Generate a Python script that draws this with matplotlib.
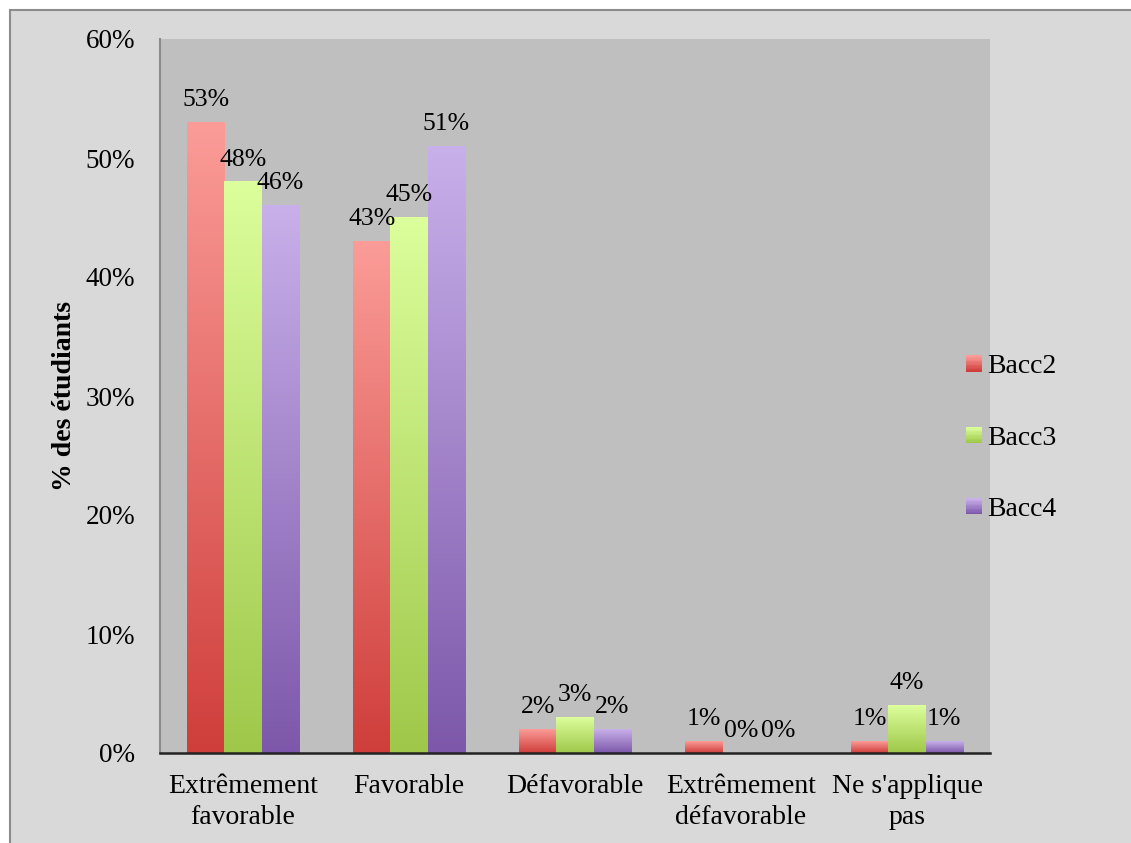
import numpy as np
import matplotlib
matplotlib.use("Agg")
import matplotlib.pyplot as plt
from matplotlib.patches import Rectangle
from matplotlib.legend_handler import HandlerBase
from matplotlib.colors import LinearSegmentedColormap

plt.rcParams['font.family'] = ['Liberation Serif', 'DejaVu Serif']

categories = ["Extrêmement\nfavorable", "Favorable", "Défavorable",
              "Extrêmement\ndéfavorable", "Ne s'applique\npas"]
series = ["Bacc2", "Bacc3", "Bacc4"]
bacc2 = [53, 43, 2, 1, 1]
bacc3 = [48, 45, 3, 0, 4]
bacc4 = [46, 51, 2, 0, 1]
yticks = [0, 10, 20, 30, 40, 50, 60]

# top (light) and bottom (dark) colour of each gradient
grads = [("#fb9c98", "#cf3e3b"), ("#dcfe9c", "#9fc84a"), ("#c8b0ea", "#7d58aa")]

fig = plt.figure(figsize=(11.31, 8.43), dpi=100, facecolor="white")
fig.patches.append(Rectangle((10 / 1131, -0.1), 1.2, (843 - 10) / 843 + 0.1,
                             transform=fig.transFigure, facecolor="#d9d9d9",
                             edgecolor="#8c8c8c", linewidth=1.5, zorder=-10))

ax = fig.add_axes([160 / 1131, 1 - 753 / 843, 830 / 1131, (753 - 39) / 843])
ax.set_facecolor("#bfbfbf")

x = np.arange(len(categories))
w = 0.223
grad = np.linspace(1, 0, 256).reshape(-1, 1)
for i, (name, vals) in enumerate(zip(series, [bacc2, bacc3, bacc4])):
    top, bot = grads[i]
    cmap = LinearSegmentedColormap.from_list(name, [bot, top])
    bars = ax.bar(x + (i - 1) * w, vals, w, color="none", edgecolor="none", label=name)
    for b, v in zip(bars, vals):
        x0, y0 = b.get_x(), b.get_y()
        bw, bh = b.get_width(), b.get_height()
        if bh > 0:
            ax.imshow(grad, cmap=cmap, aspect="auto", extent=(x0, x0 + bw, y0, y0 + bh),
                      zorder=2, interpolation="bilinear")
        ax.annotate(f"{v}%", (x0 + bw / 2, bh), xytext=(0, 8), textcoords="offset points",
                    ha="center", va="bottom", fontsize=18.5)


class GradHandler(HandlerBase):
    def __init__(self, top, bot):
        super().__init__()
        self.top, self.bot = top, bot

    def create_artists(self, legend, orig, xd, yd, width, height, fontsize, trans):
        cmap = LinearSegmentedColormap.from_list("h", [self.bot, self.top])
        n = 12
        s = 11.5
        y0 = yd + (height - s) / 2
        arts = []
        for k in range(n):
            arts.append(Rectangle((xd + width - s, y0 + s * k / n), s, s / n + 0.3,
                                  facecolor=cmap(k / (n - 1)), edgecolor="none",
                                  transform=trans))
        return arts


handles = [Rectangle((0, 0), 1, 1) for _ in series]
ax.legend(handles, series, handler_map={h: GradHandler(*g) for h, g in zip(handles, grads)},
          loc="center left", bbox_to_anchor=((966 - 160) / 830, (753 - 438) / 714),
          frameon=False, fontsize=20, borderpad=0, borderaxespad=0,
          handlelength=0.575, handletextpad=0.2, labelspacing=1.65)

ax.set_xlim(-0.5, len(categories) - 0.5)
ax.set_ylim(0, 60)
ax.set_yticks(yticks)
ax.set_yticklabels([f"{t}%" for t in yticks], fontsize=19.5)
ax.set_xticks(x)
ax.set_xticklabels(categories, fontsize=20, linespacing=1.3)
ax.tick_params(axis="y", length=0, pad=18)
ax.tick_params(axis="x", length=0, pad=15)
ax.set_ylabel("% des étudiants", fontsize=20, fontweight="bold", labelpad=6)

for s in ["top", "right"]:
    ax.spines[s].set_visible(False)
ax.spines["left"].set_color("#8c8c8c")
ax.spines["left"].set_linewidth(1.5)
ax.spines["bottom"].set_color("#222222")
ax.spines["bottom"].set_linewidth(1.8)
ax.spines["bottom"].set_zorder(5)

fig.savefig("out.png", dpi=100, facecolor="white")
